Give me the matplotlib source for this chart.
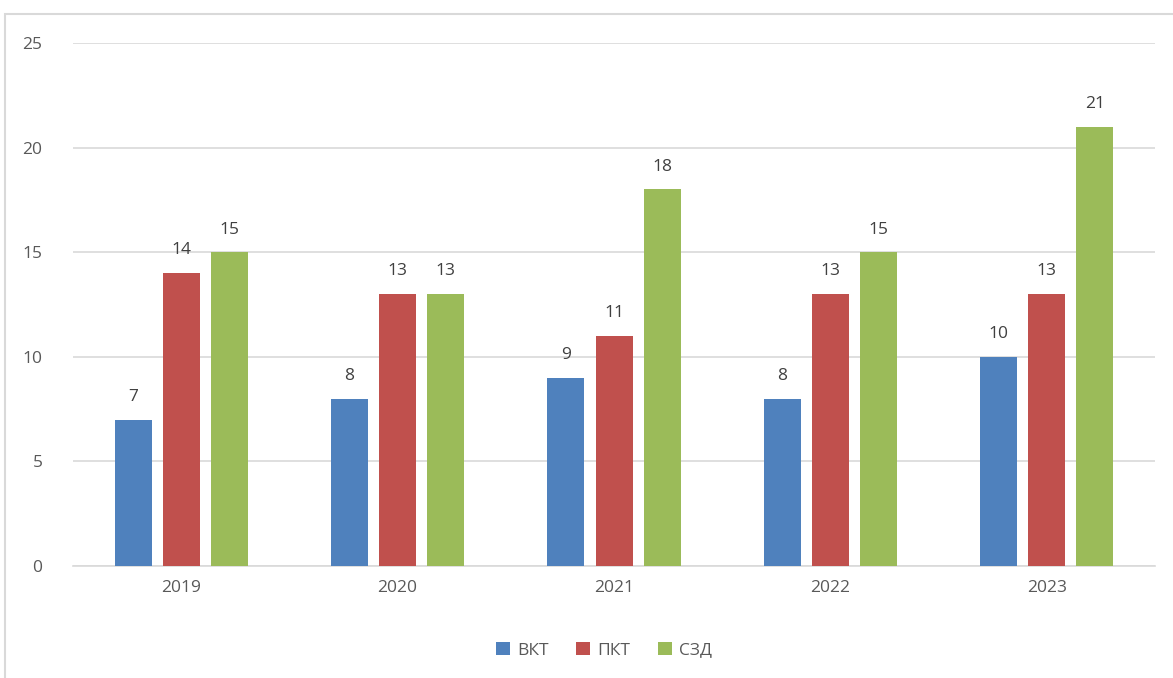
import numpy as np
import matplotlib.pyplot as plt
from matplotlib.patches import Rectangle

years = ['2019', '2020', '2021', '2022', '2023']
series = ['ВКТ', 'ПКТ', 'СЗД']
vkt = [7, 8, 9, 8, 10]
pkt = [14, 13, 11, 13, 13]
szd = [15, 13, 18, 15, 21]
colors = ['#4F81BD', '#C0504D', '#9BBB59']

plt.rcParams['font.family'] = ['Open Sans', 'DejaVu Sans']
txt = '#595959'

fig = plt.figure(figsize=(11.73, 6.78), dpi=100)
ax = fig.add_axes([0.0622, 0.1652, 0.9225, 0.7714])

# outer chart frame
fig.patches.append(Rectangle((5/1173, -0.01), 1.1, 1 - 14/678 + 0.01,
                             transform=fig.transFigure, fill=False,
                             edgecolor='#D9D9D9', linewidth=1.5))

x = np.arange(len(years))
w = 0.171
step = 0.222
for i, (vals, name) in enumerate(zip([vkt, pkt, szd], series)):
    pos = x + (i - 1) * step
    bars = ax.bar(pos, vals, w, color=colors[i], label=name, zorder=3)
    for b, v in zip(bars, vals):
        ax.text(b.get_x() + b.get_width() / 2, v + 0.7, str(v),
                ha='center', va='bottom', fontsize=12.5, color='#404040')

ax.set_ylim(0, 25)
ax.set_xlim(-0.5, 4.5)
ax.set_yticks(range(0, 26, 5))
ax.set_xticks(x)
ax.set_xticklabels(years)
ax.yaxis.grid(True, color='#D9D9D9', linewidth=1.2, zorder=0)
ax.tick_params(length=0, labelsize=12.5, labelcolor=txt)
ax.tick_params(axis='y', pad=22)
ax.tick_params(axis='x', pad=10)
for s in ['top', 'right', 'left']:
    ax.spines[s].set_visible(False)
ax.spines['bottom'].set_color('#D9D9D9')
ax.spines['bottom'].set_linewidth(1.2)

leg = fig.legend(loc='center', bbox_to_anchor=(0.515, 0.041), ncol=3,
                 frameon=False, fontsize=12.5, handlelength=0.8,
                 handleheight=0.8, handletextpad=0.4, columnspacing=1.6)
for t in leg.get_texts():
    t.set_color(txt)

fig.savefig('out.png', dpi=100)
